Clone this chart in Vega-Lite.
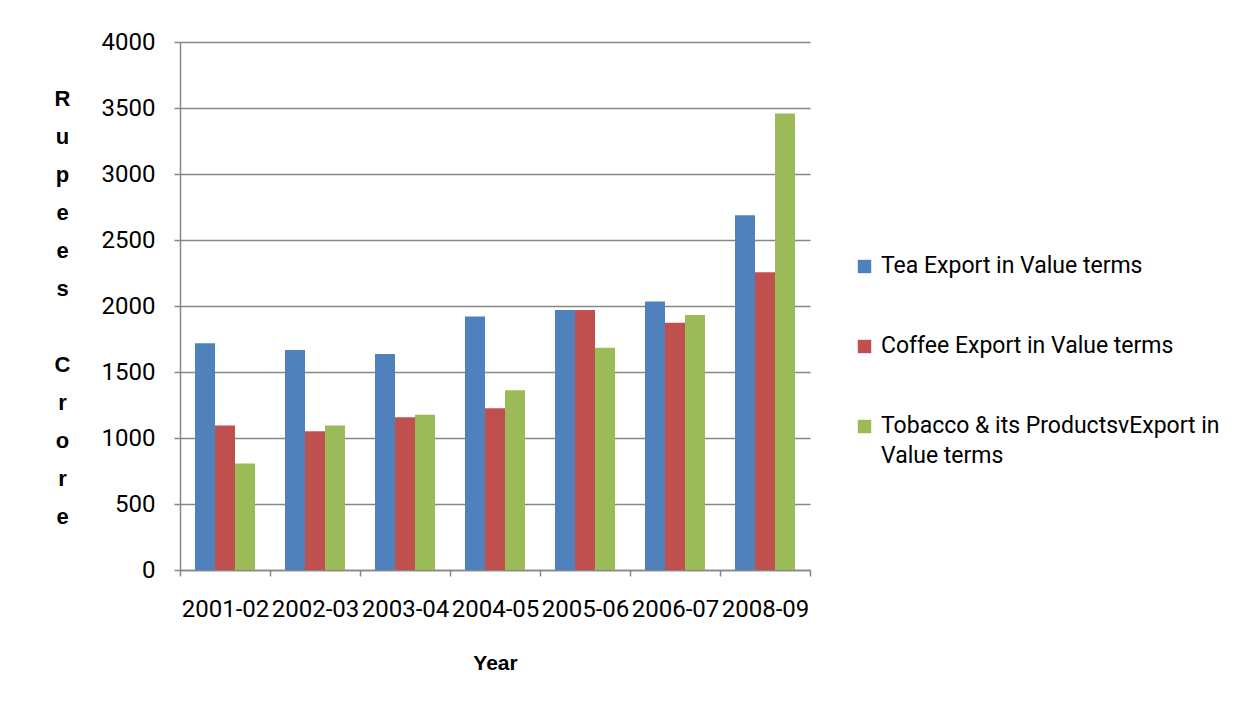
{
  "$schema": "https://vega.github.io/schema/vega-lite/v6.json",
  "autosize": {"type": "none"},
  "width": 630,
  "height": 528,
  "padding": {"left": 180, "top": 42, "right": 435, "bottom": 137},
  "background": "white",
  "config": {
    "view": {"stroke": null},
    "font": "Roboto"
  },
  "data": {
    "values": [
      {"year": "2001-02", "series": "Tea Export in Value terms", "value": 1717},
      {"year": "2001-02", "series": "Coffee Export in Value terms", "value": 1094},
      {"year": "2001-02", "series": "Tobacco & its ProductsvExport in Value terms", "value": 806},
      {"year": "2002-03", "series": "Tea Export in Value terms", "value": 1666},
      {"year": "2002-03", "series": "Coffee Export in Value terms", "value": 1051},
      {"year": "2002-03", "series": "Tobacco & its ProductsvExport in Value terms", "value": 1094},
      {"year": "2003-04", "series": "Tea Export in Value terms", "value": 1636},
      {"year": "2003-04", "series": "Coffee Export in Value terms", "value": 1157},
      {"year": "2003-04", "series": "Tobacco & its ProductsvExport in Value terms", "value": 1177},
      {"year": "2004-05", "series": "Tea Export in Value terms", "value": 1921},
      {"year": "2004-05", "series": "Coffee Export in Value terms", "value": 1225},
      {"year": "2004-05", "series": "Tobacco & its ProductsvExport in Value terms", "value": 1362},
      {"year": "2005-06", "series": "Tea Export in Value terms", "value": 1969},
      {"year": "2005-06", "series": "Coffee Export in Value terms", "value": 1969},
      {"year": "2005-06", "series": "Tobacco & its ProductsvExport in Value terms", "value": 1684},
      {"year": "2006-07", "series": "Tea Export in Value terms", "value": 2035},
      {"year": "2006-07", "series": "Coffee Export in Value terms", "value": 1873},
      {"year": "2006-07", "series": "Tobacco & its ProductsvExport in Value terms", "value": 1931},
      {"year": "2008-09", "series": "Tea Export in Value terms", "value": 2688},
      {"year": "2008-09", "series": "Coffee Export in Value terms", "value": 2256},
      {"year": "2008-09", "series": "Tobacco & its ProductsvExport in Value terms", "value": 3459}
    ]
  },
  "mark": {"type": "bar"},
  "encoding": {
    "x": {
      "field": "year",
      "type": "nominal",
      "sort": null,
      "scale": {"paddingInner": 0, "paddingOuter": 0},
      "axis": {
        "title": "Year",
        "titleFont": "Liberation Sans",
        "titleFontWeight": "bold",
        "titleFontSize": 21,
        "titleColor": "black",
        "titleBaseline": "middle",
        "titleY": 93,
        "labelAngle": 0,
        "labelFontSize": 24,
        "labelColor": "black",
        "labelPadding": 21,
        "labelOverlap": false,
        "tickBand": "extent",
        "tickSize": 6,
        "tickColor": "#868686",
        "tickWidth": 1.5,
        "domainColor": "#868686",
        "domainWidth": 1.5,
        "grid": false
      }
    },
    "xOffset": {
      "field": "series",
      "type": "nominal",
      "sort": ["Tea Export in Value terms", "Coffee Export in Value terms", "Tobacco & its ProductsvExport in Value terms"],
      "scale": {"paddingInner": 0, "paddingOuter": 0.75}
    },
    "y": {
      "field": "value",
      "type": "quantitative",
      "scale": {"domain": [0, 4000], "nice": false},
      "axis": {
        "title": ["R", "u", "p", "e", "e", "s", "\u200b", "C", "r", "o", "r", "e"],
        "titleAngle": 0,
        "titleAlign": "center",
        "titleBaseline": "top",
        "titleX": -118,
        "titleY": 46,
        "titleLineHeight": 38,
        "titleFont": "Liberation Sans",
        "titleFontWeight": "bold",
        "titleFontSize": 22,
        "titleColor": "black",
        "values": [0, 500, 1000, 1500, 2000, 2500, 3000, 3500, 4000],
        "format": "d",
        "labelFontSize": 24,
        "labelColor": "black",
        "labelPadding": 19,
        "tickSize": 6,
        "tickColor": "#868686",
        "tickWidth": 1.5,
        "domainColor": "#868686",
        "domainWidth": 1.5,
        "gridColor": "#868686",
        "gridWidth": 1.5
      }
    },
    "color": {
      "field": "series",
      "type": "nominal",
      "scale": {
        "domain": ["Tea Export in Value terms", "Coffee Export in Value terms", "Tobacco & its ProductsvExport in Value terms"],
        "range": ["#4F81BD", "#C0504D", "#9BBB59"]
      },
      "legend": {
        "title": null,
        "orient": "none",
        "legendX": 673,
        "legendY": 213,
        "padding": 0,
        "symbolType": "square",
        "symbolSize": 180,
        "symbolStrokeWidth": 0,
        "labelFontSize": 23,
        "labelColor": "black",
        "labelLimit": 400,
        "labelOffset": 5,
        "labelExpr": "datum.label == 'Tobacco & its ProductsvExport in Value terms' ? ['Tobacco & its ProductsvExport in', 'Value terms'] : datum.label",
        "rowPadding": 56,
        "encode": {
          "labels": {"update": {"baseline": {"value": "top"}, "dy": {"value": -12}, "lineHeight": {"value": 30}}}
        }
      }
    }
  }
}
